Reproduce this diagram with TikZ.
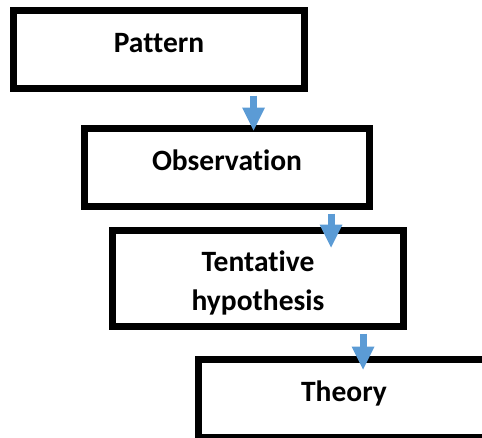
\documentclass[tikz,border=0pt]{standalone}
\usepackage{fontspec}
\setmainfont[Ligatures={TeX,NoCommon}]{Carlito}
\usetikzlibrary{arrows.meta}
\definecolor{flowblue}{HTML}{5B9BD5}
\begin{document}
\begin{tikzpicture}[x=1pt, y=-1pt,
    stage/.style={draw, rectangle, line width=7pt, minimum width=291pt, minimum height=78pt, inner sep=0pt,
        align=center, text height=20pt, text depth=14.4pt, font=\bfseries\fontsize{29.5}{39}\selectfont},
    flow/.style={draw=flowblue, line width=7pt, -{Triangle[width=23pt, length=23pt, line width=0pt]}, shorten <=3.5pt}]

        \useasboundingbox (0, 0) rectangle (482, 437);
        \clip (0, 0) rectangle (482, 437);

        % Boxes
        \node[stage] (pattern) at (159, 49.5) {Pattern};
        \node[stage, minimum width=285pt] (obs) at (227, 167.5) {Observation};
        \node[stage, minimum height=96pt, text height=70pt, text depth=7pt] (hyp) at (258, 278.5) {Tentative\\hypothesis};
        \node[stage] (theory) at (344, 398.5) {Theory};

        % Arrows
        \draw[flow, shorten >=-5.5pt] ([xshift=94.5pt]pattern.south) -- ([xshift=26.5pt]obs.north);
        \draw[flow, shorten >=-20.5pt] ([xshift=104pt]obs.south) -- ([xshift=73pt]hyp.north);
        \draw[flow, shorten >=-13.5pt] ([xshift=105pt]hyp.south) -- ([xshift=19pt]theory.north);

    \end{tikzpicture}
\end{document}
